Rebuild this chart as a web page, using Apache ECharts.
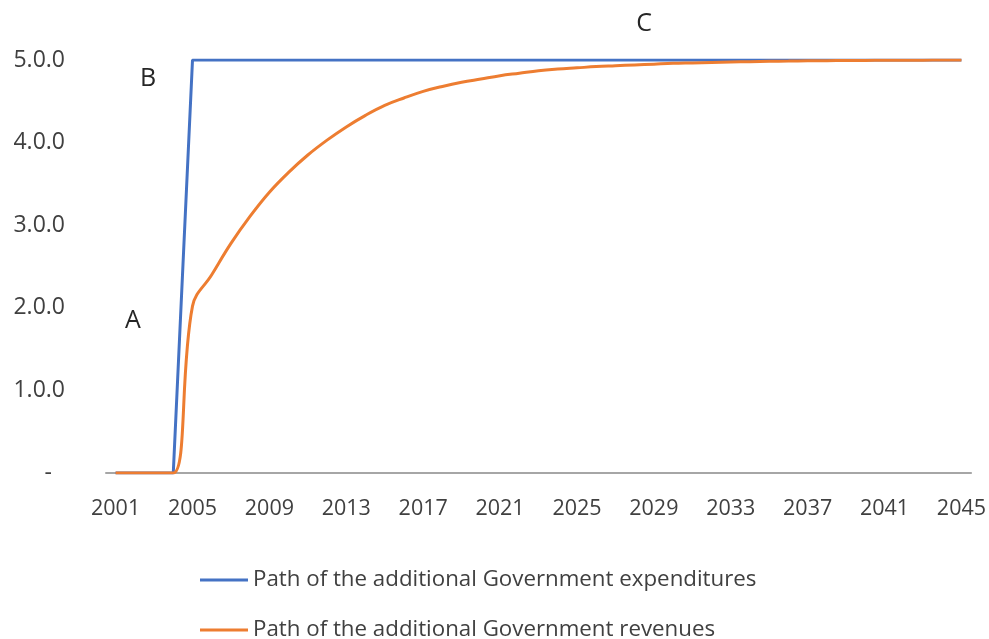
<!DOCTYPE html>
<html>
<head>
<meta charset="utf-8">
<script src="https://cdn.jsdelivr.net/npm/echarts@6/dist/echarts.min.js"></script>
<style>
  html, body { margin: 0; padding: 0; background: #ffffff; }
  #chart { width: 989px; height: 639px; }
</style>
</head>
<body>
<div id="chart"></div>
<script>
// Years on the category axis
const years = [
  '2001','2002','2003','2004','2005','2006','2007','2008','2009','2010',
  '2011','2012','2013','2014','2015','2016','2017','2018','2019','2020',
  '2021','2022','2023','2024','2025','2026','2027','2028','2029','2030',
  '2031','2032','2033','2034','2035','2036','2037','2038','2039','2040',
  '2041','2042','2043','2044','2045'
];

// Additional Government expenditures: step up to 5.0 in 2005
const expenditures = [
  0, 0, 0, 0, 5, 5, 5, 5, 5, 5,
  5, 5, 5, 5, 5, 5, 5, 5, 5, 5,
  5, 5, 5, 5, 5, 5, 5, 5, 5, 5,
  5, 5, 5, 5, 5, 5, 5, 5, 5, 5,
  5, 5, 5, 5, 5
];

// Additional Government revenues: gradual catch-up towards 5.0
const revenues = [
  0, 0, 0, 0, 2.02, 2.40, 2.78, 3.11, 3.40, 3.64,
  3.85, 4.03, 4.19, 4.33, 4.45, 4.54, 4.62, 4.68, 4.73, 4.77,
  4.81, 4.84, 4.87, 4.89, 4.905, 4.92, 4.93, 4.94, 4.95, 4.96,
  4.965, 4.97, 4.975, 4.98, 4.984, 4.987, 4.99, 4.992, 4.994, 4.995,
  4.996, 4.997, 4.998, 4.999, 4.999
];

// Value-axis tick labels (0 shown as a dash)
const yTickLabels = ['-', '1.0.0', '2.0.0', '3.0.0', '4.0.0', '5.0.0'];

const seriesNames = [
  'Path of the additional Government expenditures',
  'Path of the additional Government revenues'
];

const FONT = '"Open Sans", sans-serif';
const TEXT = '#404040';

const chart = echarts.init(document.getElementById('chart'), null, { renderer: 'canvas' });

// One legend block per series so the two entries stack without wrapping
function legendRow(name, top) {
  return {
    orient: 'horizontal',
    left: 195,
    top: top,
    icon: 'rect',
    itemWidth: 48,
    itemHeight: 3,
    textStyle: { color: TEXT, fontFamily: FONT, fontSize: 22.3, lineHeight: 24 },
    data: [name]
  };
}

chart.setOption({
  animation: false,
  backgroundColor: '#ffffff',
  grid: { left: 106, right: 17, top: 60, bottom: 166 },
  xAxis: {
    type: 'category',
    data: years,
    boundaryGap: true,
    axisLine: { show: true, lineStyle: { color: '#a6a6a6', width: 2 } },
    axisTick: { show: false },
    axisLabel: {
      interval: 3,
      margin: 25,
      color: TEXT,
      fontFamily: FONT,
      fontSize: 21.5
    },
    splitLine: { show: false }
  },
  yAxis: {
    type: 'value',
    min: 0,
    max: 5,
    interval: 1,
    axisLine: { show: false },
    axisTick: { show: false },
    splitLine: { show: false },
    axisLabel: {
      margin: 41,
      color: TEXT,
      fontFamily: FONT,
      fontSize: 23,
      formatter: function (v) {
        const s = yTickLabels[Math.round(v)];
        return v === 0 ? '{dash|' + s + '}' : s;
      },
      rich: {
        dash: { color: TEXT, fontFamily: FONT, fontSize: 23, padding: [0, 13, 0, 0] }
      }
    }
  },
  legend: [
    legendRow(seriesNames[0], 563),
    legendRow(seriesNames[1], 613)
  ],
  series: [
    {
      name: seriesNames[0],
      type: 'line',
      data: expenditures,
      showSymbol: false,
      symbol: 'none',
      lineStyle: { color: '#4472C4', width: 3 },
      itemStyle: { color: '#4472C4' }
    },
    {
      name: seriesNames[1],
      type: 'line',
      data: revenues,
      smooth: 0.4,
      showSymbol: false,
      symbol: 'none',
      lineStyle: { color: '#ED7D31', width: 3 },
      itemStyle: { color: '#ED7D31' }
    }
  ],
  graphic: [
    { type: 'text', x: 133, y: 321, style: { text: 'A', fill: '#262626', font: '25px ' + FONT, align: 'center', verticalAlign: 'middle' } },
    { type: 'text', x: 148, y: 79, style: { text: 'B', fill: '#262626', font: '25px ' + FONT, align: 'center', verticalAlign: 'middle' } },
    { type: 'text', x: 644, y: 24, style: { text: 'C', fill: '#262626', font: '25px ' + FONT, align: 'center', verticalAlign: 'middle' } }
  ]
});
</script>
</body>
</html>
